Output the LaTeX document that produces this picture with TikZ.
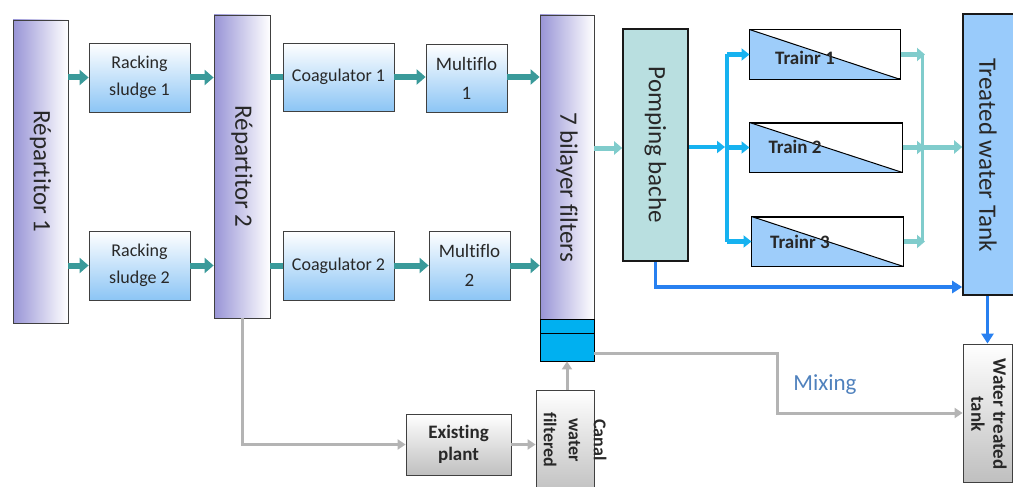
\documentclass[tikz,border=0pt]{standalone}
\usepackage{fontspec}
\setmainfont{Carlito}[Ligatures=CommonOff]
\usetikzlibrary{arrows.meta,calc}
\definecolor{purp}{RGB}{152,148,214}
\definecolor{boxblue}{RGB}{140,197,245}
\definecolor{tealA}{RGB}{58,154,154}
\definecolor{tealL}{RGB}{128,204,204}
\definecolor{cyanB}{RGB}{22,178,240}
\definecolor{blueD}{RGB}{40,128,240}
\definecolor{grayL}{RGB}{180,180,180}
\definecolor{pompfill}{RGB}{185,223,224}
\definecolor{tankfill}{RGB}{153,203,251}
\definecolor{trainfill}{RGB}{158,205,250}
\definecolor{filtcyan}{RGB}{0,176,240}
\definecolor{mixcol}{RGB}{79,129,189}
\definecolor{edge}{RGB}{64,64,64}
\definecolor{txt}{RGB}{40,40,40}
\begin{document}
\begin{tikzpicture}[x=1pt,y=-1pt,
  repbox/.style={draw=edge, line width=0.8pt, left color=purp, right color=white, inner sep=0pt},
  bluebox/.style={draw=edge, line width=0.8pt, top color=white, bottom color=boxblue, inner sep=0pt, align=center, text=txt, font=\fontsize{18}{27}\selectfont},
  graybox/.style={draw=edge, line width=0.8pt, top color=white, bottom color=black!25, inner sep=0pt},
  vtext/.style={rotate=-90, text=txt, font=\fontsize{25}{30}\selectfont},
  btext/.style={font=\bfseries\fontsize{19}{22}\selectfont, align=center, text=txt},
  tealarrow/.style={draw=tealA, line width=6pt, -{Triangle[length=9pt,width=15pt]}},
  ltealarrow/.style={draw=tealL, line width=5pt, -{Triangle[length=8pt,width=13pt]}},
  ltealline/.style={draw=tealL, line width=3pt},
  cyanarrow/.style={draw=cyanB, line width=4.5pt, -{Triangle[length=8pt,width=12pt]}},
  cyanline/.style={draw=cyanB, line width=4pt},
  darkblue/.style={draw=blueD, line width=3.5pt, -{Triangle[length=10pt,width=12pt]}},
  grayarrow/.style={draw=grayL, line width=3pt, -{Triangle[length=8pt,width=10pt]}},
  trainbox/.style={draw=black, line width=1pt, inner sep=0pt}
]
\useasboundingbox (0,0) rectangle (1013,487);

% Repartitors
\node[repbox, minimum width=55pt, minimum height=303pt] (rep1) at (40.5,171.5) {};
\node[vtext] (rep1t) at (rep1) {Répartitor 1};
\node[repbox, minimum width=56pt, minimum height=303pt] (rep2) at (242,166.5) {};
\node[vtext] (rep2t) at (rep2) {Répartitor 2};

% Racking sludge
\node[bluebox, minimum width=101pt, minimum height=69pt] (rack1) at (139.5,77.5) {Racking\\sludge 1};
\node[bluebox, minimum width=101pt, minimum height=69pt] (rack2) at (139.5,265.5) {Racking\\sludge 2};

% Coagulators
\node[bluebox, minimum width=111pt, minimum height=68pt] (coag1) at (338.5,77) {Coagulator 1};
\node[bluebox, minimum width=111pt, minimum height=69pt] (coag2) at (338.5,265.5) {Coagulator 2};

% Multiflo
\node[bluebox, minimum width=81pt, minimum height=68pt, font=\fontsize{19}{29}\selectfont] (mf1) at (466.5,78) {Multiflo\\1};
\node[bluebox, minimum width=81pt, minimum height=69pt, font=\fontsize{19}{29}\selectfont] (mf2) at (469.5,265.5) {Multiflo\\2};

% Filters
\node[repbox, minimum width=54pt, minimum height=304pt] (filt) at (567,167) {};
\node[vtext] (filtt) at (567,187) {7 bilayer filters};
\node[draw=black, line width=0.8pt, fill=filtcyan, minimum width=54pt, minimum height=14pt, inner sep=0pt] (cyan1) at (567,326) {};
\node[draw=black, line width=0.8pt, fill=filtcyan, minimum width=54pt, minimum height=28pt, inner sep=0pt] (cyan2) at (567,347) {};

% Pomping bache
\node[draw=black!90, line width=1.6pt, fill=pompfill, minimum width=65pt, minimum height=232pt, inner sep=0pt] (pomp) at (655.5,145) {};
\node[vtext] (pompt) at (pomp) {Pomping bache};

% Trains
\foreach \n/\cx/\cy/\w in {1/825/54.5/150, 2/826/147.5/152, 3/827.5/241.5/151}{
  \node[trainbox, minimum width=\w pt, minimum height=49pt] (tr\n) at (\cx,\cy) {};
  \fill[trainfill] (tr\n.north west) -- (tr\n.south east) -- (tr\n.south west) -- cycle;
  \draw[black, line width=1pt] (tr\n.north west) -- (tr\n.south east);
  \draw[black, line width=1pt] (tr\n.north west) rectangle (tr\n.south east);
}
\node[btext] (tr1t) at (805,58) {Trainr 1};
\node[btext] (tr2t) at (795,147) {Train 2};
\node[btext] (tr3t) at (800,242) {Trainr 3};

% Treated water tank
\node[draw=black!90, line width=1.6pt, fill=tankfill, minimum width=57pt, minimum height=281pt, inner sep=0pt] (tank) at (991.5,154.5) {};
\node[vtext] (tankt) at (988,155) {Treated water Tank};

% Water treated tank
\node[graybox, minimum width=49pt, minimum height=138pt] (wtt) at (987.5,413) {};
\node[rotate=-90, text=txt, font=\bfseries\fontsize{19}{22}\selectfont, align=center] (wttt) at (989,414) {Water treated\\tank};

% Existing plant
\node[graybox, minimum width=105pt, minimum height=61pt, align=center, text=txt, font=\bfseries\fontsize{19}{22}\selectfont] (exist) at (458.5,444.5) {Existing\\plant};

% Canal water filtered
\node[graybox, minimum width=58pt, minimum height=105pt] (canal) at (565,442.5) {};
\node[rotate=-90, text=txt, font=\bfseries\fontsize{18}{25}\selectfont, align=center] (canalt) at (575,440) {Canal\\water\\filtered};

% Teal connectors
\draw[tealarrow] (rep1.east |- rack1) -- (rack1.west);
\draw[tealarrow] (rep1.east |- rack2) -- (rack2.west);
\draw[tealarrow] (rack1.east) -- (rack1.east -| rep2.west);
\draw[tealarrow] (rack2.east) -- (rack2.east -| rep2.west);
\draw[draw=tealA, line width=6pt] (rep2.east |- coag1) -- (coag1.west);
\draw[draw=tealA, line width=6pt] (rep2.east |- coag2) -- (coag2.west);
\draw[tealarrow] (coag1.east) -- (coag1.east -| mf1.west);
\draw[tealarrow] (coag2.east) -- (coag2.east -| mf2.west);
\draw[tealarrow] (mf1.east |- coag1) -- (filt.west |- coag1);
\draw[tealarrow] (mf2.east) -- (mf2.east -| filt.west);

% filters -> pomping
\coordinate (fp) at (0,148);
\draw[ltealarrow] (filt.east |- fp) -- (pomp.west |- fp);

% pomping -> trains
\coordinate (j) at (727,147);
\draw[cyanarrow] (pomp.east |- j) -- ($(j)+(-2,0)$);
\draw[cyanline] (j |- tr1) -- (j |- tr3);
\draw[cyanarrow] (j |- tr1) -- (tr1.west);
\draw[cyanarrow] (j |- tr2) -- (tr2.west);
\draw[cyanarrow] (j |- tr3) -- (tr3.west);

% trains -> tank
\coordinate (k) at (922,147);
\draw[ltealline] (k |- tr1) -- (k |- tr3);
\draw[ltealarrow] (tr1.east) -- ($(k |- tr1)+(3,0)$);
\draw[ltealarrow] (tr2.east) -- ($(k |- tr2)+(3,0)$);
\draw[ltealarrow] (tr3.east) -- ($(k |- tr3)+(3,0)$);
\draw[ltealarrow] (k) -- (tank.west |- k);

% pomping bottom -> tank
\coordinate (b1) at (0,287);
\draw[darkblue] (pomp.south) |- (tank.west |- b1);
% tank -> water treated tank
\draw[darkblue] (wtt.north |- tank.south) -- (wtt.north);

% Gray connectors
\coordinate (m1) at (777,353);
\coordinate (m2) at (0,413);
\draw[grayarrow] (cyan2.east |- m1) -- (m1) |- (wtt.west |- m2);
\node[text=mixcol, font=\fontsize{23}{26}\selectfont] (mix) at (825,385) {Mixing};
\draw[grayarrow] (rep2.south) |- (exist.west);
\draw[grayarrow] (exist.east) -- (exist.east -| canal.west);
\draw[grayarrow] (cyan2.south |- canal.north) -- (cyan2.south);
\end{tikzpicture}
\end{document}
